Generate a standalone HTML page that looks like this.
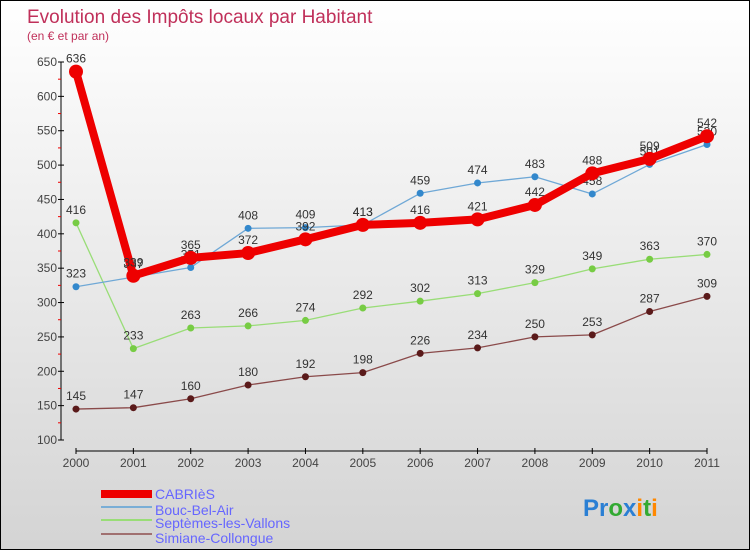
<!DOCTYPE html>
<html><head><meta charset="utf-8"><style>
body{margin:0}
#c{width:750px;height:550px;position:relative;box-sizing:border-box;border:1px solid #000;background:linear-gradient(#fff,#d4d4d4);font-family:"Liberation Sans",sans-serif;overflow:hidden}
text{font-family:"Liberation Sans",sans-serif}
</style></head><body>
<div id="c">
<svg id="s" width="750" height="550">
<text x="26" y="22" font-size="19" fill="#c0305a">Evolution des Impôts locaux par Habitant</text>
<text x="26" y="39" font-size="12" fill="#c0305a">(en € et par an)</text>
<g id="ax"></g><g id="ser"></g>
<g>
<rect x="100" y="489" width="51" height="8" fill="#e00"/>
<text x="154" y="498" font-size="14" fill="#66f">CABRIèS</text>
<rect x="100" y="505" width="51" height="2" fill="#7aaed6"/>
<text x="154" y="514" font-size="14" fill="#66f">Bouc-Bel-Air</text>
<rect x="100" y="518" width="51" height="2" fill="#99dd77"/>
<text x="154" y="527" font-size="14" fill="#66f">Septèmes-les-Vallons</text>
<rect x="100" y="532" width="51" height="2" fill="#a07070"/>
<text x="154" y="542" font-size="14" fill="#66f">Simiane-Collongue</text>
</g>
<text x="582" y="515" font-size="24" font-weight="bold"><tspan fill="#2a7fd4">Pr</tspan><tspan fill="#3a3">o</tspan><tspan fill="#2a7fd4">x</tspan><tspan fill="#f80">i</tspan><tspan fill="#3a3">t</tspan><tspan fill="#f80">i</tspan></text>
</svg></div>
<script>
const years=["2000","2001","2002","2003","2004","2005","2006","2007","2008","2009","2010","2011"];
const cabries=[636,339,365,372,392,413,416,421,442,488,509,542];
const bouc=[323,337,351,408,409,413,459,474,483,458,501,530];
const septemes=[416,233,263,266,274,292,302,313,329,349,363,370];
const simiane=[145,147,160,180,192,198,226,234,250,253,287,309];
const yTicks=[100,150,200,250,300,350,400,450,500,550,600,650];
const NS="http://www.w3.org/2000/svg";
const X=i=>75+i*(706-75)/11;
const Y=v=>439-(v-100)*(439-61)/550;
function mk(t,a,p){const e=document.createElementNS(NS,t);for(const k in a)e.setAttribute(k,a[k]);p.appendChild(e);return e;}
const ax=document.getElementById('ax'),ser=document.getElementById('ser');
let l=mk('line',{x1:60,y1:61,x2:60,y2:439,stroke:'#000'},ax);


yTicks.forEach(v=>{
 mk('line',{x1:57,y1:Y(v),x2:63,y2:Y(v),stroke:'#000'},ax);
 if(v<650) mk('line',{x1:57,y1:Y(v+25),x2:60,y2:Y(v+25),stroke:'#e00'},ax);
 const t=mk('text',{x:56,y:Y(v)+4,'font-size':12,'text-anchor':'end',fill:'#444'},ax);t.textContent=v;
 
 
});
l=mk('line',{x1:75,y1:450,x2:706,y2:450,stroke:'#000'},ax);


years.forEach((y,i)=>{
 mk('line',{x1:X(i),y1:447,x2:X(i),y2:453,stroke:'#000'},ax);
 const t=mk('text',{x:X(i),y:466,'font-size':12,'text-anchor':'middle',fill:'#444'},ax);t.textContent=y;
 
 
});
function series(d,name,col,dot,w,r){
 const g=mk('g',{},ser);
 
 
 const p=mk('polyline',{points:d.map((v,i)=>X(i)+','+Y(v)).join(' '),fill:'none',stroke:col,'stroke-width':w,'stroke-linejoin':'round'},g);
 
 
 d.forEach((v,i)=>{
  const c=mk('circle',{cx:X(i),cy:Y(v),r:r,fill:dot},g);
  
  
  const t=mk('text',{x:X(i),y:Y(v)-9,'font-size':12,'text-anchor':'middle',fill:'#333'},g);t.textContent=v;
  
  
 });
}
series(simiane,'simiane','#8a4a4a','#5a1a1a',1.3,3.5);
series(septemes,'septemes','#99dd77','#77cc44',1.3,3.5);
series(bouc,'bouc','#6fa8d6','#3388cc',1.3,3.5);
series(cabries,'cabries','#ee0000','#ee0000',8,7);
</script>
</body></html>
